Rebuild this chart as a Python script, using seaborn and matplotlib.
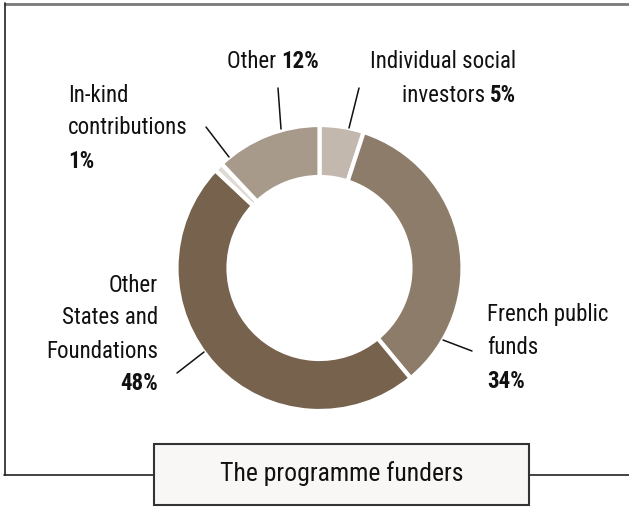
import numpy as np
import seaborn as sns
import matplotlib.pyplot as plt
from matplotlib.patches import Rectangle

# data
funders = ["Individual social investors", "French public funds",
           "Other States and Foundations", "In-kind contributions", "Other"]
shares = [5, 34, 48, 1, 12]
colors = ["#c3b8ad", "#8d7c6a", "#77624e", "#e0d9d4", "#a89a8b"]
title = "The programme funders"

sns.set_theme(style="white")
plt.rcParams['font.family'] = ['Roboto Condensed', 'Liberation Sans Narrow',
                               'DejaVu Sans']
plt.rcParams['font.stretch'] = 'condensed'

W, H = 629, 507
fig = plt.figure(figsize=(W / 100, H / 100), dpi=100)
ax = fig.add_axes([0, 0, 1, 1])


def Y(y):
    # image pixel row -> axes coordinate
    return H - y


# donut
cx, cy, r_out, ring = 319.5, 268, 143, 52
ax.pie(shares, colors=colors, startangle=90, counterclock=False,
       center=(cx, Y(cy)), radius=r_out, frame=True,
       wedgeprops=dict(width=ring, edgecolor='white', linewidth=3))
ax.set_xlim(0, W)
ax.set_ylim(0, H)
ax.set_aspect('equal')
ax.axis('off')

fs = 16.5
renderer = fig.canvas.get_renderer()


def text_width(s, weight):
    t = ax.text(0, 0, s, fontsize=fs, fontweight=weight)
    bb = t.get_window_extent(renderer=renderer)
    t.remove()
    return bb.width


def line(x, y, parts, ha='left'):
    # parts: list of (string, weight); placed left to right
    widths = [text_width(s, w) for s, w in parts]
    total = sum(widths)
    if ha == 'right':
        x = x - total
    elif ha == 'center':
        x = x - total / 2
    for (s, w), wd in zip(parts, widths):
        ax.text(x, Y(y), s, fontsize=fs, fontweight=w, va='center',
                ha='left', color='#111111')
        x += wd


R, B = 'normal', 'bold'
sp = " "

# labels
line(227, 62, [("Other" + sp, R), (f"{shares[4]}%", B)])
line(516, 62, [("Individual social", R)], ha='right')
line(516, 95, [("investors" + sp, R), (f"{shares[0]}%", B)], ha='right')
line(68, 95, [("In-kind", R)])
line(68, 128, [("contributions", R)])
line(68, 161, [(f"{shares[3]}%", B)])
line(487, 315, [("French public", R)])
line(487, 348, [("funds", R)])
line(487, 381, [(f"{shares[1]}%", B)])
line(158, 285, [("Other", R)], ha='right')
line(158, 318, [("States and", R)], ha='right')
line(158, 351, [("Foundations", R)], ha='right')
line(158, 384, [(f"{shares[2]}%", B)], ha='right')

# leader lines
leaders = [((278, 88), (281, 129)), ((359, 88), (349, 128)),
           ((206, 127), (229, 157)), ((443, 340), (472, 351)),
           ((177, 373), (204, 352))]
for (x0, y0), (x1, y1) in leaders:
    ax.plot([x0, x1], [Y(y0), Y(y1)], color='#111111', lw=1.1)

# frame
ax.plot([4, W], [Y(3.5), Y(3.5)], color='#7a7a7a', lw=2, solid_capstyle='butt')
ax.plot([4.5, 4.5], [Y(3), Y(475)], color='#222222', lw=1.2)
ax.plot([4, 154], [Y(475), Y(475)], color='#222222', lw=1.2)
ax.plot([529, W], [Y(475), Y(475)], color='#222222', lw=1.2)

# title box
ax.add_patch(Rectangle((154, Y(505)), 375, 61, facecolor='#f8f7f5',
                       edgecolor='#333333', lw=1.5, zorder=3))
ax.text(341.5, Y(474), title, fontsize=18.5, ha='center', va='center',
        color='#111111', zorder=4)

fig.savefig("out.png", dpi=100)
